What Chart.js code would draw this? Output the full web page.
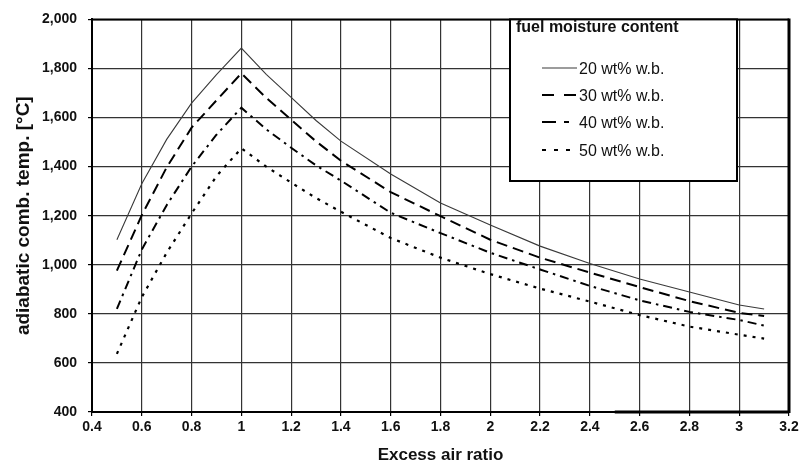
<!DOCTYPE html>
<html>
<head>
<meta charset="utf-8">
<script src="https://cdn.jsdelivr.net/npm/chart.js@4.4.1/dist/chart.umd.min.js"></script>
<style>
  html, body { margin: 0; padding: 0; background: #fff; }
  #wrap { width: 803px; height: 468px; position: relative; }
</style>
</head>
<body>
<div id="wrap"><canvas id="c" width="803" height="468"></canvas></div>
<script>
// ---- data ----
const excessAir = [0.5, 0.6, 0.7, 0.8, 0.9, 1.0, 1.1, 1.2, 1.3, 1.4, 1.6, 1.8, 2.0, 2.2, 2.4, 2.6, 2.8, 3.0, 3.1];
const moisture20 = [1102, 1330, 1511, 1659, 1775, 1883, 1776, 1682, 1588, 1504, 1370, 1252, 1162, 1076, 1005, 942, 889, 836, 820];
const moisture30 = [976, 1202, 1397, 1559, 1670, 1780, 1680, 1591, 1503, 1424, 1296, 1198, 1102, 1029, 968, 909, 852, 804, 791];
const moisture40 = [820, 1062, 1243, 1400, 1530, 1640, 1552, 1477, 1405, 1343, 1212, 1129, 1049, 981, 914, 855, 808, 775, 752];
const moisture50 = [637, 868, 1049, 1209, 1361, 1475, 1400, 1335, 1272, 1216, 1109, 1029, 962, 903, 850, 795, 748, 715, 699];
const seriesLabels = ['20 wt% w.b.', '30 wt% w.b.', '40 wt% w.b.', '50 wt% w.b.'];
const xTickValues = [0.4, 0.6, 0.8, 1, 1.2, 1.4, 1.6, 1.8, 2, 2.2, 2.4, 2.6, 2.8, 3, 3.2];
const yTickValues = [400, 600, 800, 1000, 1200, 1400, 1600, 1800, 2000];
const legendTitle = 'fuel moisture content';
const xTitle = 'Excess air ratio';
const yTitle = 'adiabatic comb. temp. [°C]';

const toPts = arr => arr.map((v, i) => ({ x: excessAir[i], y: v }));

const styles = [
  { color: '#3a3a3a', width: 1.1, dash: [], legendDash: [] },
  { color: '#000', width: 2, dash: [11, 6], legendDash: [12, 10] },
  { color: '#000', width: 2, dash: [9, 5, 2.5, 5], legendDash: [14, 8, 5, 40] },
  { color: '#000', width: 2.2, dash: [3, 6], legendDash: [4, 8] }
];
const seriesData = [moisture20, moisture30, moisture40, moisture50];

const datasets = seriesData.map((d, i) => ({
  label: seriesLabels[i],
  data: toPts(d),
  borderColor: styles[i].color,
  borderWidth: styles[i].width,
  borderDash: styles[i].dash,
  pointRadius: 0,
  tension: 0,
  fill: false
}));

const FONT = "'Liberation Sans', Arial, sans-serif";

const framePlugin = {
  id: 'frame',
  afterDatasetsDraw(chart) {
    const { ctx, chartArea: a, scales } = chart;
    ctx.save();
    ctx.strokeStyle = '#000';
    // top border
    ctx.lineWidth = 2;
    ctx.beginPath(); ctx.moveTo(a.left, a.top); ctx.lineTo(a.right, a.top); ctx.stroke();
    // right border (thick)
    ctx.lineWidth = 3;
    ctx.beginPath(); ctx.moveTo(a.right, a.top - 1); ctx.lineTo(a.right, a.bottom + 1); ctx.stroke();
    // thicker bottom segment at right
    const xs = scales.x.getPixelForValue(2.5);
    ctx.lineWidth = 3;
    ctx.beginPath(); ctx.moveTo(xs, a.bottom); ctx.lineTo(a.right, a.bottom); ctx.stroke();

    // legend box
    const L = 510, T = a.top, R = 737, B = 181;
    ctx.fillStyle = '#fff';
    ctx.fillRect(L, T, R - L, B - T);
    ctx.lineWidth = 2;
    ctx.strokeRect(L, T, R - L, B - T);
    ctx.fillStyle = '#111';
    ctx.textBaseline = 'middle';
    ctx.textAlign = 'left';
    ctx.font = 'bold 16px ' + FONT;
    ctx.fillText(legendTitle, 516, 28);
    ctx.font = '16px ' + FONT;
    const ys = [70, 97, 124, 152];
    chart.data.datasets.forEach((ds, i) => {
      const y = ys[i];
      ctx.save();
      ctx.strokeStyle = styles[i].color;
      ctx.lineWidth = i === 0 ? 1.1 : 2.2;
      ctx.setLineDash(styles[i].legendDash);
      ctx.beginPath();
      ctx.moveTo(542, y - 2);
      ctx.lineTo(577, y - 2);
      ctx.stroke();
      ctx.restore();
      ctx.fillText(ds.label, 579, y);
    });
    ctx.restore();
  }
};

new Chart(document.getElementById('c'), {
  type: 'line',
  data: { datasets },
  options: {
    responsive: false,
    animation: false,
    events: [],
    layout: { padding: { left: 0, right: 14, top: 14, bottom: 0 } },
    plugins: { legend: { display: false }, tooltip: { enabled: false }, title: { display: false } },
    scales: {
      x: {
        type: 'linear',
        min: 0.4, max: 3.2,
        afterBuildTicks: s => { s.ticks = xTickValues.map(v => ({ value: v })); },
        afterFit: s => { s.height = 56; },
        grid: { color: '#333', lineWidth: 1.2, tickLength: 4, tickColor: '#000', drawTicks: true },
        border: { display: true, color: '#000', width: 2 },
        ticks: {
          color: '#111', padding: 3, maxRotation: 0, autoSkip: false,
          font: { family: FONT, size: 14, weight: 'bold' },
          callback: v => String(Math.round(v * 10) / 10)
        },
        title: {
          display: true, text: xTitle, color: '#111',
          font: { family: FONT, size: 17, weight: 'bold' },
          padding: { top: 0, bottom: 2 }
        }
      },
      y: {
        type: 'linear',
        min: 400, max: 2000,
        afterBuildTicks: s => { s.ticks = yTickValues.map(v => ({ value: v })); },
        afterFit: s => { s.width = 92; },
        grid: { color: '#333', lineWidth: 1.2, tickLength: 4, tickColor: '#000', drawTicks: true },
        border: { display: true, color: '#000', width: 2 },
        ticks: {
          color: '#111', padding: 11, autoSkip: false,
          font: { family: FONT, size: 14, weight: 'bold' },
          callback: v => v.toLocaleString('en-US')
        },
        title: {
          display: true, text: yTitle, color: '#111',
          font: { family: FONT, size: 19, weight: 'bold' },
          padding: { top: 12, bottom: 0 }
        }
      }
    }
  },
  plugins: [framePlugin]
});
</script>
</body>
</html>
